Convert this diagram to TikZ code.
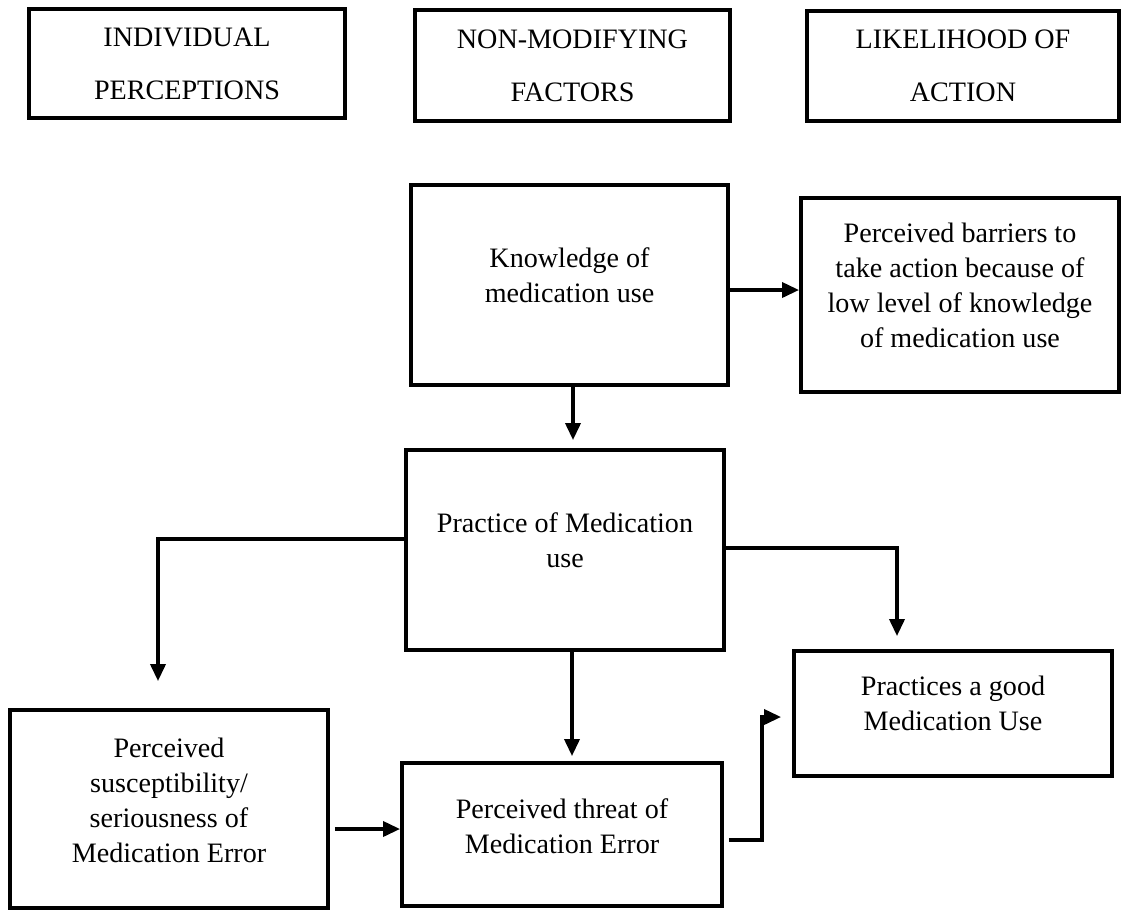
\documentclass[tikz,border=0pt]{standalone}
\usepackage{fontspec}
\setmainfont{Liberation Serif}
\usetikzlibrary{arrows.meta}

\tikzset{
    head/.style={draw=black, line width=2.2pt, align=center, font=\fontsize{16}{30.1}\selectfont},
    box/.style={draw=black, line width=2.2pt},
    txt/.style={align=center, font=\fontsize{16}{19.9}\selectfont},
    arr/.style={line width=2pt, -{Triangle[length=0.34cm,width=0.3cm]}}
}

\begin{document}
\begin{tikzpicture}
    \useasboundingbox (0,0) rectangle (22.42,-18.2);
    % column headers
    \node[head, minimum width=6.32cm, minimum height=2.18cm] (ind) at (3.74,-1.27) {INDIVIDUAL\\PERCEPTIONS};
    \node[head, minimum width=6.30cm, minimum height=2.22cm] (nonmod) at (11.45,-1.31) {NON-MODIFYING\\FACTORS};
    \node[head, minimum width=6.24cm, minimum height=2.20cm] (likely) at (19.26,-1.32) {LIKELIHOOD OF\\ACTION};
    % boxes
    \node[box, minimum width=6.34cm, minimum height=4.00cm] (know) at (11.39,-5.70) {};
    \node[box, minimum width=6.36cm, minimum height=3.88cm] (barrier) at (19.20,-5.90) {};
    \node[box, minimum width=6.36cm, minimum height=4.00cm] (practice) at (11.30,-11.00) {};
    \node[box, minimum width=6.36cm, minimum height=2.50cm] (good) at (19.06,-14.27) {};
    \node[box, minimum width=6.36cm, minimum height=3.96cm] (susc) at (3.38,-16.18) {};
    \node[box, minimum width=6.40cm, minimum height=2.86cm] (threat) at (11.24,-16.69) {};
    % box texts
    \node[txt] (knowtxt) at ([yshift=0.2cm]know.center) {Knowledge of\\medication use};
    \node[txt] (barriertxt) at ([yshift=0.2cm]barrier.center) {Perceived barriers to\\take action because of\\low level of knowledge\\of medication use};
    \node[txt] (practicetxt) at ([yshift=0.2cm]practice.center) {Practice of Medication\\use};
    \node[txt] (goodtxt) at ([yshift=0.2cm]good.center) {Practices a good\\Medication Use};
    \node[txt] (susctxt) at ([yshift=0.18cm]susc.center) {Perceived\\susceptibility/\\seriousness of\\Medication Error};
    \node[txt] (threattxt) at ([yshift=0.17cm]threat.center) {Perceived threat of\\Medication Error};
    % connectors
    \draw[arr] ([yshift=-0.1cm]know.east) -- ([yshift=-0.1cm]know.east -| barrier.west);
    \draw[arr, shorten >=0.16cm] ([xshift=0.07cm]know.south) -- ([xshift=0.07cm]know.south |- practice.north);
    \draw[arr] ([yshift=0.22cm]practice.west) -| ([xshift=-0.22cm,yshift=0.54cm]susc.north);
    \draw[arr] ([yshift=0.04cm]practice.east) -| ([xshift=-1.12cm,yshift=0.26cm]good.north);
    \draw[arr, shorten >=0.1cm] ([xshift=0.14cm]practice.south) -- ([xshift=0.14cm]practice.south |- threat.north);
    \draw[arr, shorten <=0.1cm] ([yshift=-0.4cm]susc.east) -- ([yshift=-0.4cm]susc.east -| threat.west);
    \draw[arr, shorten <=0.1cm, shorten >=0.22cm] ([yshift=-0.11cm]threat.east) -- ++(0.76,0) |- ([yshift=-0.07cm]good.west);
\end{tikzpicture}
\end{document}
